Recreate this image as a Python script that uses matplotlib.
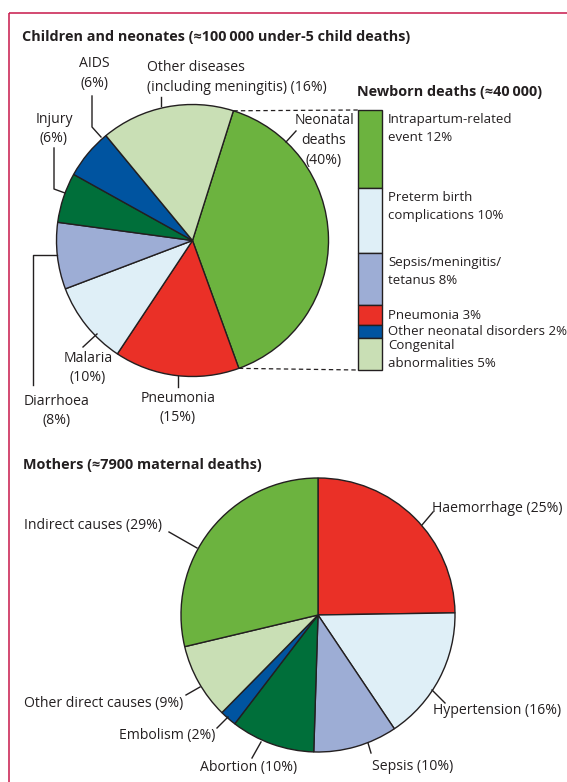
import matplotlib
matplotlib.use("Agg")
import matplotlib.pyplot as plt
import matplotlib.transforms as mtransforms
import numpy as np

plt.rcParams['font.family'] = ['Open Sans', 'DejaVu Sans']

# ---------------- data ----------------
child_labels = ["Neonatal deaths", "Pneumonia", "Malaria", "Diarrhoea", "Injury", "AIDS",
                "Other diseases (including meningitis)"]
child_values = [40, 15, 10, 8, 6, 6, 16]

newborn_labels = ["Intrapartum-related\nevent 12%", "Preterm birth\ncomplications 10%",
                  "Sepsis/meningitis/\ntetanus 8%", "Pneumonia 3%",
                  "Other neonatal disorders 2%", "Congenital\nabnormalities 5%"]
newborn_values = [12, 10, 8, 3, 2, 5]

mother_labels = ["Haemorrhage", "Hypertension", "Sepsis", "Abortion", "Embolism",
                 "Other direct causes", "Indirect causes"]
mother_values = [25, 16, 10, 10, 2, 9, 29]

# ---------------- style ----------------
GREEN = "#6cb33f"
RED = "#ea3027"
LBLUE = "#dfeff7"
LAV = "#9dadd5"
DGREEN = "#006f3a"
BLUE = "#0054a0"
LGREEN = "#c9dfb5"
EDGE = "#231f20"
TXT = "#231f20"
FRAME = "#c8174a"

child_colors = [GREEN, RED, LBLUE, LAV, DGREEN, BLUE, LGREEN]
newborn_colors = [GREEN, LBLUE, LAV, RED, BLUE, LGREEN]
mother_colors = [RED, LBLUE, LAV, DGREEN, BLUE, LGREEN, GREEN]

W, H = 567, 782
FS_BAR = 9.5
FS_PIE = 10.1
FSB = 10.4
LS_BAR = 1.52
LS_PIE = 1.42
LW = 1.0
fig = plt.figure(figsize=(W / 100, H / 100), dpi=100)

def box(cx, cy, r):
    return [(cx - r) / W, (H - (cy + r)) / H, 2 * r / W, 2 * r / H]

# overlay in image-pixel coordinates for annotations
ov = fig.add_axes([0, 0, 1, 1], zorder=5)
ov.set_xlim(0, W)
ov.set_ylim(H, 0)
ov.axis("off")
ov.patch.set_alpha(0)

# frame
ov.plot([8.5, W], [12.5, 12.5], color=FRAME, lw=1.1, solid_capstyle="butt")
ov.plot([8.5, 8.5], [12.5, H], color=FRAME, lw=1.1, solid_capstyle="butt")

# ---------------- top pie ----------------
ax1 = fig.add_axes(box(192.5, 240.5, 136))
w1, _ = ax1.pie(child_values, colors=child_colors, startangle=72.5, counterclock=False,
                wedgeprops=dict(edgecolor=EDGE, linewidth=LW))
ax1.set_xlim(-1, 1)
ax1.set_ylim(-1, 1)
ax1.set_aspect("auto")
for w in w1:
    w.set_clip_on(False)

# ---------------- stacked bar ----------------
bx = fig.add_axes([358 / W, (H - 370) / H, 24 / W, 260 / H])
total = sum(newborn_values)
bx.set_xlim(0, 1)
bx.set_ylim(total, 0)
bx.axis("off")
bottoms = np.concatenate([[0], np.cumsum(newborn_values)[:-1]])
bx.bar([0.5] * len(newborn_values), newborn_values, bottom=bottoms, width=1,
       color=newborn_colors, edgecolor=EDGE, linewidth=LW, clip_on=False)
btr = mtransforms.blended_transform_factory(bx.transAxes, bx.transData)
for lab, v, b in zip(newborn_labels, newborn_values, bottoms):
    if v >= 8:
        bx.text(1.25, b + 0.45, lab, transform=btr, ha="left", va="top", fontsize=FS_BAR,
                color=TXT, linespacing=LS_BAR)
    else:
        bx.text(1.25, b + v / 2 + 0.15, lab, transform=btr, ha="left", va="center",
                fontsize=FS_BAR, color=TXT, linespacing=LS_BAR)

# dashed connectors from neonatal wedge to bar
fig.canvas.draw()
to_ov = ov.transData.inverted()
wn = w1[0]
p_up = to_ov.transform(ax1.transData.transform((np.cos(np.radians(wn.theta2)), np.sin(np.radians(wn.theta2)))))
p_lo = to_ov.transform(ax1.transData.transform((np.cos(np.radians(wn.theta1)), np.sin(np.radians(wn.theta1)))))
ca = to_ov.transform(bx.transAxes.transform((0, 0)))
cb = to_ov.transform(bx.transAxes.transform((0, 1)))
c_top = ca if ca[1] < cb[1] else cb
c_bot = cb if ca[1] < cb[1] else ca
ov.plot([p_up[0], c_top[0]], [p_up[1], c_top[1]], color=EDGE, lw=0.9, ls=(0, (3.5, 2.5)))
ov.plot([p_lo[0], c_bot[0]], [p_lo[1], c_bot[1]], color=EDGE, lw=0.9, ls=(0, (3.5, 2.5)))

# ---------------- bottom pie ----------------
ax2 = fig.add_axes(box(318, 615, 137))
w2, _ = ax2.pie(mother_values, colors=mother_colors, startangle=90, counterclock=False,
                wedgeprops=dict(edgecolor=EDGE, linewidth=LW))
ax2.set_xlim(-1, 1)
ax2.set_ylim(-1, 1)
ax2.set_aspect("auto")
for w in w2:
    w.set_clip_on(False)

# ---------------- titles ----------------
ov.text(22, 37, "Children and neonates (\u2248100\u2009000 under-5 child deaths)", fontsize=FSB,
        fontweight="bold", color=TXT, ha="left", va="center")
ov.text(357, 92, "Newborn deaths (\u224840\u2009000)", fontsize=FSB, fontweight="bold",
        color=TXT, ha="left", va="center")
ov.text(23, 465, "Mothers (\u22487900 maternal deaths)", fontsize=FSB, fontweight="bold",
        color=TXT, ha="left", va="center")

# ---------------- top labels + leaders ----------------
def pct(v):
    return f"({v}%)"

top_layout = [
    ("Neonatal\ndeaths\n" + pct(child_values[0]), 324, 140.5, "center",
     [(286, 142), (296, 131)]),
    ("Pneumonia\n" + pct(child_values[1]), 178, 408, "center", [(178, 376), (178, 387)]),
    ("Malaria\n" + pct(child_values[2]), 88, 368, "center", [(83, 347), (97, 334)]),
    ("Diarrhoea\n" + pct(child_values[3]), 57, 411, "center", [(33, 385), (33, 255), (57, 255)]),
    ("Injury\n" + pct(child_values[4]), 54, 129, "center", [(54, 148), (54, 189), (65, 193)]),
    ("AIDS\n" + pct(child_values[5]), 94.5, 73.7, "center", [(92, 96), (92, 127), (101, 137)]),
    ("Other diseases\n(including meningitis) " + pct(child_values[6]), 147, 77.8, "left",
     [(161, 97), (161, 106)]),
]
for txt, x, y, ha, path in top_layout:
    ov.text(x, y, txt, fontsize=FS_PIE, color=TXT, ha=ha, va="center",
            multialignment="center" if ha == "center" else "left", linespacing=LS_PIE)
    xs, ys = zip(*path)
    ov.plot(xs, ys, color=EDGE, lw=LW)

# ---------------- bottom labels + leaders ----------------
bot_layout = [
    (432, 508, "left", [(422, 525), (433, 512)]),
    (433, 710, "left", [(432, 690), (445, 703)]),
    (372, 767, "left", [(368, 743), (371, 753)]),
    (200, 768, "left", [(252, 758), (261, 742)]),
    (215, 735, "right", [(217, 728), (228, 717)]),
    (24, 703, "left", [(186, 695), (200, 687)]),
    (24, 526, "left", [(169, 532), (197, 548)]),
]
for lab, v, (x, y, ha, path) in zip(mother_labels, mother_values, bot_layout):
    ov.text(x, y, f"{lab} {pct(v)}", fontsize=FS_PIE, color=TXT, ha=ha, va="center")
    xs, ys = zip(*path)
    ov.plot(xs, ys, color=EDGE, lw=LW)

fig.savefig("out.png", dpi=100)
